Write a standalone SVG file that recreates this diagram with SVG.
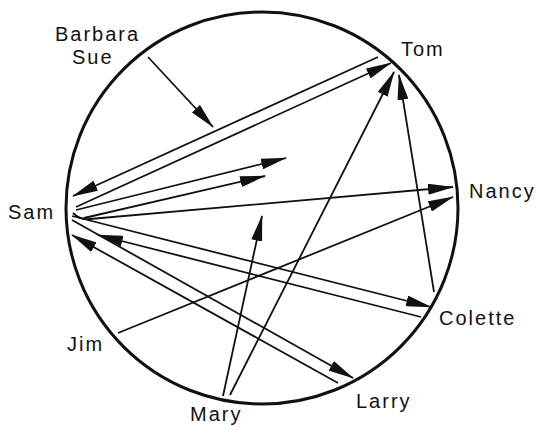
<svg xmlns="http://www.w3.org/2000/svg" width="536" height="427" viewBox="0 0 536 427">
<style>
.lbl{font-family:"Liberation Sans",Arial,sans-serif;font-size:20px;letter-spacing:2px;fill:#111}
.c{stroke:#111;stroke-width:1.8;fill:none;marker-end:url(#ah)}
</style>
<defs>
<marker id="ah" markerUnits="userSpaceOnUse" markerWidth="26" markerHeight="11" refX="25" refY="5.5" orient="auto">
<path d="M0,0 L26,5.5 L0,11 Z" fill="#111"/>
</marker>
</defs>
<rect width="536" height="427" fill="#fff"/>
<circle cx="262" cy="208" r="196" fill="none" stroke="#111" stroke-width="3"/>
<g id="barbara-sue"><text class="lbl" x="55" y="41">Barbara</text><text class="lbl" x="72" y="64">Sue</text></g>
<g id="tom"><text class="lbl" x="401" y="56">Tom</text></g>
<g id="sam"><text class="lbl" x="8" y="219">Sam</text></g>
<g id="nancy"><text class="lbl" x="469" y="198">Nancy</text></g>
<g id="jim"><text class="lbl" x="67" y="351">Jim</text></g>
<g id="colette"><text class="lbl" x="439" y="325">Colette</text></g>
<g id="larry"><text class="lbl" x="356" y="408">Larry</text></g>
<g id="mary"><text class="lbl" x="190" y="421">Mary</text></g>
<g id="connectors">
<line class="c" x1="148" y1="57" x2="213" y2="127"/>
<line class="c" x1="378" y1="57" x2="73" y2="196"/>
<line class="c" x1="76" y1="207" x2="391" y2="63"/>
<line class="c" x1="76" y1="210" x2="286" y2="158"/>
<line class="c" x1="84" y1="218" x2="265" y2="176"/>
<path class="c" d="M73,213 Q80,220 90,219 L453,187"/>
<line class="c" x1="72" y1="216" x2="431" y2="307"/>
<line class="c" x1="421" y1="317" x2="98" y2="235"/>
<line class="c" x1="72" y1="220" x2="353" y2="378"/>
<line class="c" x1="338" y1="383" x2="72" y2="235"/>
<line class="c" x1="230" y1="395" x2="394" y2="72"/>
<line class="c" x1="223" y1="396" x2="262" y2="216"/>
<line class="c" x1="434" y1="292" x2="399" y2="75"/>
<line class="c" x1="118" y1="333" x2="453" y2="197"/>
</g>
</svg>
